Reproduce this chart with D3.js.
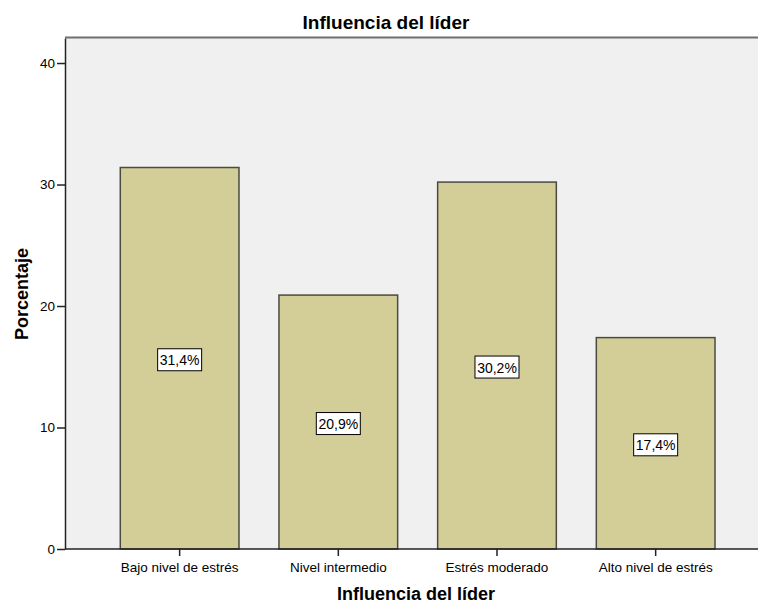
<!DOCTYPE html>
<html>
<head>
<meta charset="utf-8">
<script src="https://cdn.jsdelivr.net/npm/d3@7"></script>
<style>
  body { margin: 0; background: #fff; overflow: hidden; }
  svg { display: block; }
  svg text { font-family: "Liberation Sans", Arial, sans-serif; fill: #000; }
</style>
</head>
<body>
<svg id="chart" width="758" height="606"></svg>
<script>
// data
const categories = ["Bajo nivel de estrés", "Nivel intermedio", "Estrés moderado", "Alto nivel de estrés"]
const percents = [31.4, 20.9, 30.2, 17.4]
const yTicks = [0, 10, 20, 30, 40]
const chartTitle = "Influencia del líder"
const xTitle = "Influencia del líder"
const yTitle = "Porcentaje"

const svg = d3.select("#chart")
const plot = { left: 65, top: 38, right: 758, bottom: 549 }

const y = d3.scaleLinear().domain([0, 42.06]).range([plot.bottom, plot.top])
const x = d3.scaleBand()
  .domain(categories)
  .range([100.3, 735])
  .paddingInner(0.252)
  .paddingOuter(0.126)

// plot background
svg.append("rect")
  .attr("x", plot.left).attr("y", plot.top)
  .attr("width", plot.right - plot.left).attr("height", plot.bottom - plot.top)
  .attr("fill", "#f0f0f0")

svg.append("line")
  .attr("x1", plot.left).attr("x2", plot.right)
  .attr("y1", plot.top - 0.5).attr("y2", plot.top - 0.5)
  .attr("stroke", "#6f6f6f").attr("stroke-width", 2)

// bars
svg.selectAll("rect.bar")
  .data(percents)
  .enter()
  .append("rect")
  .attr("class", "bar")
  .attr("x", (d, i) => x(categories[i]))
  .attr("y", d => y(d))
  .attr("width", x.bandwidth())
  .attr("height", d => plot.bottom - y(d))
  .attr("fill", "#d3ce98")
  .attr("stroke", "#4a4a40")
  .attr("stroke-width", 1.5)

// value labels in boxes
const labels = svg.selectAll("g.vlabel")
  .data(percents)
  .enter()
  .append("g")
  .attr("class", "vlabel")
  .attr("transform", (d, i) => "translate(" + (x(categories[i]) + x.bandwidth() / 2) + "," + ((y(d) + y(0)) / 2 + 1.5) + ")")

labels.append("rect")
  .attr("x", -22).attr("y", -11)
  .attr("width", 44).attr("height", 22)
  .attr("fill", "#fff")
  .attr("stroke", "#000")
  .attr("stroke-width", 1)

labels.append("text")
  .attr("text-anchor", "middle")
  .attr("y", 5.5)
  .style("font-size", "14px")
  .text(d => d.toFixed(1).replace(".", ",") + "%")

// y axis
const yAxis = svg.append("g")
  .attr("transform", "translate(" + plot.left + ",0)")
  .call(d3.axisLeft(y).tickValues(yTicks).tickSize(8).tickSizeOuter(0).tickPadding(2).tickFormat(d3.format("d")))
yAxis.select(".domain").attr("stroke", "#222").attr("stroke-width", 1.5)
yAxis.selectAll(".tick line").attr("stroke", "#222").attr("stroke-width", 1.5)
yAxis.selectAll(".tick text").style("font-size", "13.5px").attr("fill", "#000")
  .style("font-family", "'Liberation Sans', Arial, sans-serif")

// x axis
const xAxis = svg.append("g")
  .attr("transform", "translate(0," + plot.bottom + ")")
  .call(d3.axisBottom(x).tickSize(7).tickSizeOuter(0).tickPadding(6))
xAxis.select(".domain").remove()
xAxis.append("line")
  .attr("x1", plot.left).attr("x2", plot.right)
  .attr("stroke", "#222").attr("stroke-width", 1.5)
xAxis.selectAll(".tick line").attr("stroke", "#222").attr("stroke-width", 1.5)
xAxis.selectAll(".tick text").style("font-size", "13.5px").attr("fill", "#000")
  .style("font-family", "'Liberation Sans', Arial, sans-serif")

// titles
svg.append("text")
  .attr("x", 386).attr("y", 29)
  .attr("text-anchor", "middle")
  .style("font-size", "19px").style("font-weight", "bold")
  .text(chartTitle)

svg.append("text")
  .attr("x", 416).attr("y", 600)
  .attr("text-anchor", "middle")
  .style("font-size", "18px").style("font-weight", "bold")
  .text(xTitle)

svg.append("text")
  .attr("transform", "translate(28,294) rotate(-90)")
  .attr("text-anchor", "middle")
  .style("font-size", "18px").style("font-weight", "bold")
  .text(yTitle)
</script>
</body>
</html>
